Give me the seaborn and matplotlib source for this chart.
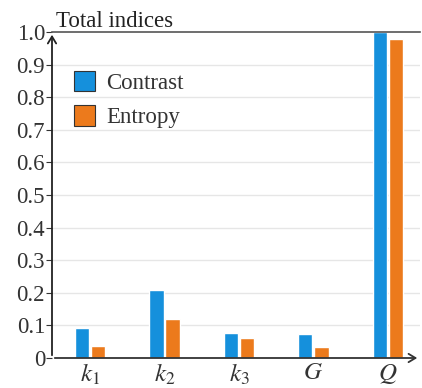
import matplotlib
matplotlib.use("Agg")
import matplotlib.pyplot as plt
import seaborn as sns
import pandas as pd

categories = ["$k_1$", "$k_2$", "$k_3$", "$G$", "$Q$"]
contrast = [0.092, 0.21, 0.076, 0.074, 1.0]
entropy = [0.037, 0.12, 0.061, 0.033, 0.98]
series = ["Contrast", "Entropy"]
yticks = [0, 0.1, 0.2, 0.3, 0.4, 0.5, 0.6, 0.7, 0.8, 0.9, 1.0]
ytick_labels = ["0", "0.1", "0.2", "0.3", "0.4", "0.5", "0.6", "0.7", "0.8", "0.9", "1.0"]

df = pd.DataFrame({
    "cat": categories * 2,
    "value": contrast + entropy,
    "series": [series[0]] * len(categories) + [series[1]] * len(categories),
})

sns.set_style("white")
plt.rcParams["font.family"] = ["Liberation Serif", "DejaVu Serif"]
plt.rcParams["mathtext.fontset"] = "stix"

fig = plt.figure(figsize=(4.22, 3.88), dpi=100)
ax = fig.add_axes([52 / 422, 30 / 388, 368 / 422, 326 / 388])

palette = {"Contrast": "#1590dc", "Entropy": "#ec7a1c"}
sns.barplot(data=df, x="cat", y="value", hue="series", palette=palette,
            width=0.44, gap=0.12, ax=ax, legend=True, saturation=1)

ax.set_ylim(0, 1.0)
ax.set_xlim(-0.51, 4.43)
ax.set_yticks(yticks)
ax.set_yticklabels(ytick_labels, fontsize=16.5, color="#333333")
ax.tick_params(axis="x", labelsize=18, length=0, pad=3, colors="#333333")
ax.tick_params(axis="y", length=4, width=0.8, pad=1, colors="#333333", left=True)
ax.set_xlabel("")
ax.set_ylabel("")

for y in yticks[1:-1]:
    ax.axhline(y, color="#e6e6e6", lw=1.0, zorder=0)

for s in ["left", "bottom", "right"]:
    ax.spines[s].set_visible(False)
ax.spines["top"].set_visible(True)
ax.spines["top"].set_color("#555555")
ax.spines["top"].set_linewidth(1.2)

ax.annotate("", xy=(0, 1.0), xytext=(0, 0), xycoords="axes fraction",
            arrowprops=dict(arrowstyle="->,head_length=0.5,head_width=0.3", color="#222222", lw=1.3),
            annotation_clip=False, zorder=5)
ax.annotate("", xy=(1.0, 0), xytext=(0, 0), xycoords="axes fraction",
            arrowprops=dict(arrowstyle="->,head_length=0.5,head_width=0.3", color="#333333", lw=1.3),
            annotation_clip=False, zorder=5)

ax.text(0.01, 1.0, "Total indices", transform=ax.transAxes, fontsize=16.5,
        ha="left", va="bottom", color="#222222")

leg = ax.legend(loc="upper left", bbox_to_anchor=(0.005, 0.945), frameon=False,
                fontsize=16.5, handlelength=0.9, handleheight=1.0, handletextpad=0.5,
                labelspacing=0.5)
for h in leg.legend_handles:
    h.set_edgecolor("#333333")
    h.set_linewidth(0.8)
for t in leg.get_texts():
    t.set_color("#333333")

fig.savefig("out.png", dpi=100)
